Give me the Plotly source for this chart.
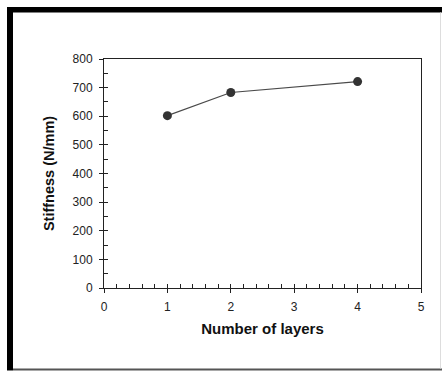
import plotly.graph_objects as go

layers = [1, 2, 4]
stiffness = [602, 683, 721]
x_ticks = [0, 1, 2, 3, 4, 5]
y_ticks = [0, 100, 200, 300, 400, 500, 600, 700, 800]

W, H = 442, 372
ML, MR, MT, MB = 104, 21, 59, 84
PW, PH = W - ML - MR, H - MT - MB

def px(x):
    return (x - ML) / PW

def py(y):
    return (H - MB - y) / PH

FONT = "Liberation Sans, Arial, sans-serif"
AX = "#222222"

fig = go.Figure()
fig.add_trace(go.Scatter(
    x=layers, y=stiffness, mode="lines+markers",
    line=dict(color="#4a4a4a", width=1.2),
    marker=dict(size=9, color="#333333"),
    showlegend=False, cliponaxis=False,
))
fig.add_trace(go.Scatter(x=[], y=[], xaxis="x2", yaxis="y2", showlegend=False))

fig.update_layout(
    width=W, height=H,
    margin=dict(l=ML, r=MR, t=MT, b=MB, pad=0),
    paper_bgcolor="white", plot_bgcolor="white",
    font=dict(family=FONT, size=12, color=AX),
    xaxis=dict(
        range=[0, 5], tickvals=x_ticks, ticktext=[str(v) for v in x_ticks],
        ticks="outside", ticklen=4, tickwidth=1, tickcolor=AX,
        showline=True, linecolor=AX, linewidth=1, mirror=True,
        showgrid=False, zeroline=False, fixedrange=True,
        tickfont=dict(size=12, color=AX), ticklabelstandoff=4,
        title=dict(text="<b>Number of layers</b>", font=dict(size=15, color="#111"), standoff=10),
        automargin=False,
    ),
    yaxis=dict(
        range=[0, 800], tickvals=y_ticks, ticktext=[str(v) for v in y_ticks],
        ticks="outside", ticklen=4, tickwidth=1, tickcolor=AX,
        showline=True, linecolor=AX, linewidth=1, mirror=True,
        showgrid=False, zeroline=False, fixedrange=True,
        tickfont=dict(size=12, color=AX), ticklabelstandoff=4,
        title=dict(text="<b>Stiffness (N/mm)</b>", font=dict(size=14.5, color="#111"), standoff=14),
        automargin=False,
    ),
    xaxis2=dict(
        overlaying="x", anchor="y", range=[0, 5], dtick=0.2, tick0=0,
        ticks="inside", ticklen=4, tickwidth=1, tickcolor=AX,
        showticklabels=False, showgrid=False, zeroline=False, showline=False,
    ),
    yaxis2=dict(
        overlaying="y", anchor="x", range=[0, 800], dtick=50, tick0=0,
        ticks="inside", ticklen=4, tickwidth=1, tickcolor=AX,
        showticklabels=False, showgrid=False, zeroline=False, showline=False,
    ),
    shapes=[
        dict(type="rect", xref="paper", yref="paper", x0=px(7), x1=px(13), y0=py(370.5), y1=py(7),
             fillcolor="black", line=dict(width=0), layer="above"),
        dict(type="rect", xref="paper", yref="paper", x0=px(7), x1=px(442), y0=py(12.5), y1=py(7),
             fillcolor="black", line=dict(width=0), layer="above"),
        dict(type="rect", xref="paper", yref="paper", x0=px(13), x1=px(442), y0=py(370.5), y1=py(368.5),
             fillcolor="#555555", line=dict(width=0), layer="above"),
        dict(type="rect", xref="paper", yref="paper", x0=px(440), x1=px(441), y0=py(368.5), y1=py(12.5),
             fillcolor="#dddddd", line=dict(width=0), layer="above"),
    ],
)

fig.write_html(
    "out.html",
    config={"displayModeBar": False, "staticPlot": True},
    post_script="document.body.style.margin='0';document.body.style.padding='0';document.body.style.overflow='hidden';",
)
